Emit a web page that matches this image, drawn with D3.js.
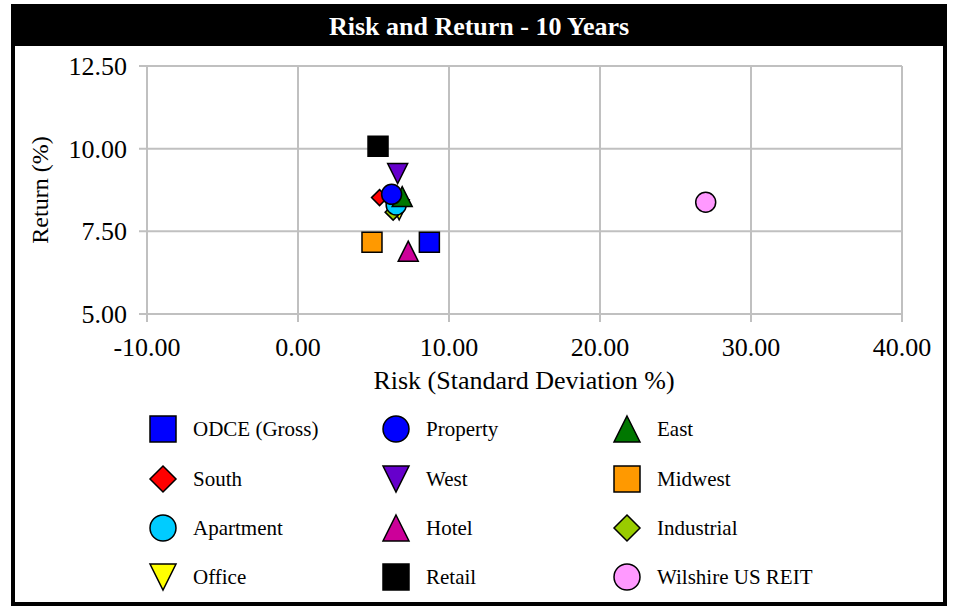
<!DOCTYPE html>
<html><head><meta charset="utf-8">
<script src="https://cdn.jsdelivr.net/npm/d3@7"></script>
<style>body{margin:0;background:#fff}svg{display:block}</style>
</head><body>
<script>
const seriesNames = ["ODCE (Gross)","Property","East","South","West","Midwest","Apartment","Hotel","Industrial","Office","Retail","Wilshire US REIT"];
const riskValues   = [8.70, 6.20, 6.90, 5.40, 6.60, 4.90, 6.50, 7.30, 6.30, 6.70, 5.30, 27.00];
const returnValues = [7.17, 8.62, 8.55, 8.52, 9.25, 7.17, 8.30, 6.90, 8.08, 8.15, 10.07, 8.38];
const seriesColors = ["#0000ff","#0000ff","#007700","#ff0000","#6600cc","#ff9900","#00ccff","#cc0099","#99cc00","#ffff00","#000000","#ff99ff"];
const seriesShapes = ["square","circle","triangle","diamond","triangleDown","square","circle","triangle","diamond","triangleDown","square","circle"];
const xTicks = [-10,0,10,20,30,40];
const yTicks = [5,7.5,10,12.5];

const W=957,H=607;
const svg=d3.select("body").append("svg").attr("width",W).attr("height",H);
const font="'Liberation Serif','Times New Roman',serif";
const fmt=d=>d3.format(".2f")(d).replace("\u2212","-");

// frame & title
svg.append("rect").attr("x",13).attr("y",6).attr("width",932).attr("height",598).attr("fill","#fff").attr("stroke","#000").attr("stroke-width",4);
svg.append("rect").attr("x",11).attr("y",6).attr("width",936).attr("height",40).attr("fill","#000");
svg.append("text").attr("x",479).attr("y",35).attr("text-anchor","middle").attr("fill","#fff")
  .attr("font-family",font).attr("font-weight","bold").attr("font-size",26).text("Risk and Return - 10 Years");

const L=147,R=902,T=66,B=314;
const x=d3.scaleLinear().domain([-10,40]).range([L,R]);
const y=d3.scaleLinear().domain([5,12.5]).range([B,T]);

const g=svg.append("g");
g.selectAll(".vg").data(xTicks).enter().append("line")
  .attr("x1",d=>x(d)).attr("x2",d=>x(d)).attr("y1",T).attr("y2",B+8)
  .attr("stroke","#c0c0c0").attr("stroke-width",2);
g.selectAll(".hg").data(yTicks).enter().append("line")
  .attr("y1",d=>y(d)).attr("y2",d=>y(d)).attr("x1",L-8).attr("x2",R)
  .attr("stroke","#c0c0c0").attr("stroke-width",2);
g.selectAll(".xl").data(xTicks).enter().append("text")
  .attr("x",d=>x(d)).attr("y",356).attr("text-anchor","middle")
  .attr("font-family",font).attr("font-size",26).text(fmt);
g.selectAll(".yl").data(yTicks).enter().append("text")
  .attr("x",127).attr("y",d=>y(d)+9).attr("text-anchor","end")
  .attr("font-family",font).attr("font-size",26).text(fmt);
svg.append("text").attr("x",524).attr("y",389).attr("text-anchor","middle")
  .attr("font-family",font).attr("font-size",26).text("Risk (Standard Deviation %)");
svg.append("text").attr("transform","translate(48,190) rotate(-90)").attr("text-anchor","middle")
  .attr("font-family",font).attr("font-size",24).text("Return (%)");

function shapePath(shape,s,dk){
  const h=s/2;
  switch(shape){
    case "square": return `M${-h},${-h}H${h}V${h}H${-h}Z`;
    case "circle": return d3.arc()({innerRadius:0,outerRadius:h,startAngle:0,endAngle:2*Math.PI});
    case "triangle": return `M0,${-h}L${h},${h}L${-h},${h}Z`;
    case "triangleDown": return `M${-h},${-h}L${h},${-h}L0,${h}Z`;
    case "diamond": return `M0,${-h*dk}L${h*dk},0L0,${h*dk}L${-h*dk},0Z`;
  }
}

const pts=seriesNames.map((n,i)=>({n,i,x:riskValues[i],y:returnValues[i]})).reverse();
g.selectAll(".pt").data(pts).enter().append("path")
  .attr("transform",d=>`translate(${x(d.x)},${y(d.y)})`)
  .attr("d",d=>shapePath(seriesShapes[d.i],20,0.8))
  .attr("fill",d=>seriesColors[d.i]).attr("stroke","#000").attr("stroke-width",1.5);

const colX=[163,396,627], rowY=[429,479,528,577];
const leg=svg.append("g");
seriesNames.forEach((n,i)=>{
  const cx=colX[i%3], cy=rowY[Math.floor(i/3)];
  leg.append("path").attr("transform",`translate(${cx},${cy})`)
    .attr("d",shapePath(seriesShapes[i],26,1.0))
    .attr("fill",seriesColors[i]).attr("stroke","#000").attr("stroke-width",1.5);
  leg.append("text").attr("x",cx+30).attr("y",cy+7).attr("font-family",font).attr("font-size",21).text(n);
});
</script>
</body></html>
